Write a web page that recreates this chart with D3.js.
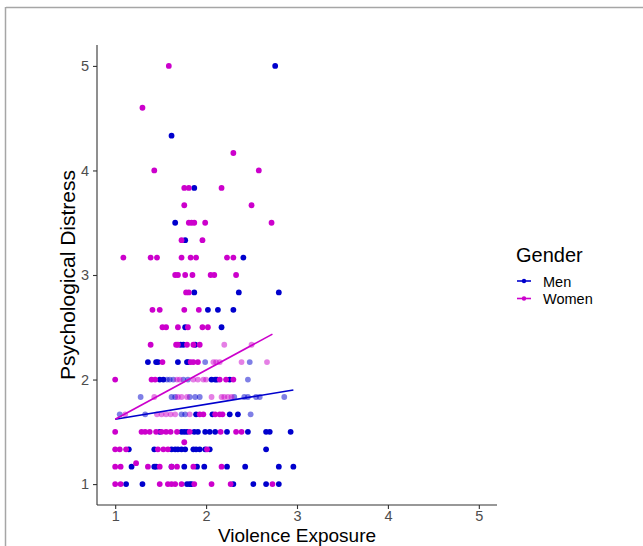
<!DOCTYPE html>
<html><head><meta charset="utf-8">
<script src="https://cdn.jsdelivr.net/npm/d3@7"></script>
<style>
html,body{margin:0;padding:0;background:#fff;}
svg{display:block;font-family:"Liberation Sans",Arial,sans-serif;}
</style></head>
<body>
<svg id="chart" width="643" height="546"></svg>
<script>
// ---- data ----
const xTicks = [1, 2, 3, 4, 5];
const yTicks = [1, 2, 3, 4, 5];
const groups = ["Men", "Women"];
const groupColors = ["#0000CD", "#CC00CC"];

// rows: [Psychological Distress, [Violence Exposure values...]]
const menRows = [
  [1, [1.12, 1.30, 1.79, 1.82, 1.84, 2.30, 2.52, 2.66, 2.80]],
  [1.167, [1.18, 1.43, 1.45, 1.62, 1.76, 1.90, 1.98, 2.23, 2.43, 2.80, 2.96]],
  [1.333, [1.15, 1.43, 1.62, 1.66, 1.69, 1.73, 1.77, 1.86, 1.89, 1.93, 1.99, 2.04, 2.66]],
  [1.5, [1.49, 1.73, 1.76, 1.79, 1.87, 1.91, 1.99, 2.04, 2.10, 2.23, 2.46, 2.66, 2.70, 2.93]],
  [1.667, [1.89, 2.07, 2.26, 2.35]],
  [2, [1.49, 1.53, 2.06, 2.10, 2.12, 2.26]],
  [2.167, [1.36, 1.45, 1.47, 1.69, 1.79, 1.80]],
  [2.333, [1.72, 1.75, 1.88]],
  [2.5, [1.77, 2.17]],
  [2.667, [2.02, 2.13, 2.30]],
  [2.833, [1.87, 2.36, 2.80]],
  [3.167, [2.41]],
  [3.333, [1.77]],
  [3.5, [1.66]],
  [3.833, [1.87]],
  [4.333, [1.62]],
  [5, [2.76]]
];
const womenRows = [
  [1, [1.0, 1.06, 1.49, 1.58, 1.62, 1.66, 1.73, 1.87, 2.06, 2.27, 2.73]],
  [1.167, [1.0, 1.06, 1.36, 1.49, 1.62, 1.68, 1.86, 2.17]],
  [1.2, [1.23]],
  [1.333, [1.0, 1.05, 1.12, 1.47, 1.53, 1.58, 2.01]],
  [1.4, [1.76]],
  [1.5, [1.0, 1.29, 1.33, 1.38, 1.45, 1.51, 1.56, 1.61, 1.68, 1.82, 2.16, 2.33, 2.39]],
  [1.667, [1.93, 1.97, 2.10, 2.15, 2.18]],
  [2, [1.0, 1.40, 1.44, 2.15, 2.22, 2.30]],
  [2.167, [1.52, 1.83, 1.86, 1.91]],
  [2.333, [1.39, 1.67, 1.69, 1.79, 1.86, 1.93]],
  [2.5, [1.52, 1.56, 1.69, 1.80, 1.96, 2.02]],
  [2.667, [1.41, 1.49, 1.76, 1.92]],
  [2.833, [1.78, 1.81]],
  [3, [1.66, 1.69, 1.77, 1.85, 2.05, 2.09, 2.33]],
  [3.167, [1.09, 1.39, 1.46, 1.73, 1.83, 1.89, 2.23, 2.30]],
  [3.333, [1.73, 1.96]],
  [3.5, [1.81, 1.84, 1.87, 1.99, 2.72]],
  [3.667, [1.76, 2.50]],
  [3.833, [1.76, 1.81, 2.17]],
  [4, [1.43, 2.58]],
  [4.167, [2.30]],
  [4.6, [1.30]],
  [5, [1.59]]
];
// lighter (semi-transparent) points
const menFaintRows = [
  [1.667, [1.05, 1.33, 1.73, 1.77, 2.49]],
  [1.833, [1.28, 1.62, 1.66, 1.82, 1.88, 1.93, 2.31, 2.42, 2.46, 2.55, 2.59, 2.86]],
  [2, [1.57, 1.60, 1.64, 1.75, 1.80, 2.46]],
  [2.167, [1.99, 2.48]]
];
const womenFaintRows = [
  [1.667, [1.11, 1.46, 1.51, 1.56, 1.61, 1.66, 1.82]],
  [1.833, [1.43, 1.69, 1.73, 1.79, 2.06, 2.17, 2.20, 2.24, 2.28]],
  [2, [1.68, 1.71, 1.86, 1.91, 1.97, 2.0]],
  [2.167, [2.08, 2.11, 2.15, 2.39, 2.67]],
  [2.333, [2.20, 2.50]]
];
// linear fits (estimated): intercept, slope, x range
const fitIntercepts = [1.477, 1.149];
const fitSlopes = [0.143, 0.471];
const fitXMin = [1.0, 1.0];
const fitXMax = [2.96, 2.73];

// ---- build ----
function flatten(rows, g, faint) {
  const out = [];
  rows.forEach(([y, xs]) => xs.forEach(x => out.push({x, y, g, faint})));
  return out;
}
const points = [].concat(
  flatten(menFaintRows, 0, true), flatten(womenFaintRows, 1, true),
  flatten(menRows, 0, false), flatten(womenRows, 1, false)
);

const svg = d3.select("#chart");
const W = 643, H = 546;
const plot = {left: 97, right: 497, top: 45, bottom: 505};

// outer frame (top/left border of the picture)
svg.append("line").attr("x1", 6).attr("x2", W).attr("y1", 7.5).attr("y2", 7.5)
  .attr("stroke", "#a6a6a6").attr("stroke-width", 1.5);
svg.append("line").attr("x1", 5.5).attr("x2", 5.5).attr("y1", 7).attr("y2", H)
  .attr("stroke", "#a6a6a6").attr("stroke-width", 1.5);

const x = d3.scaleLinear().domain([0.8, 5.2]).range([plot.left, plot.right]);
const y = d3.scaleLinear().domain([0.8, 5.2]).range([plot.bottom, plot.top]);

// axes
const fmt = d3.format("d");
const xAxis = svg.append("g").attr("transform", `translate(0,${plot.bottom})`)
  .call(d3.axisBottom(x).tickValues(xTicks).tickFormat(fmt).tickSize(4).tickPadding(2).tickSizeOuter(0));
const yAxis = svg.append("g").attr("transform", `translate(${plot.left},0)`)
  .call(d3.axisLeft(y).tickValues(yTicks).tickFormat(fmt).tickSize(4).tickPadding(4).tickSizeOuter(0));
[xAxis, yAxis].forEach(a => {
  a.attr("font-size", null).attr("font-family", null);
  a.select(".domain").attr("stroke", "#333").attr("stroke-width", 1.1);
  a.selectAll(".tick line").attr("stroke", "#333").attr("stroke-width", 1.1);
  a.selectAll(".tick text").attr("fill", "#4D4D4D")
    .style("font-size", "14.5px").style("font-family", "'Liberation Sans',Arial,sans-serif");
});
xAxis.select(".domain").attr("d", `M${plot.left},0H${plot.right}`);
yAxis.select(".domain").attr("d", `M0,${plot.top}V${plot.bottom}`);

// points
svg.append("g").selectAll("circle").data(points).join("circle")
  .attr("cx", d => x(d.x)).attr("cy", d => y(d.y)).attr("r", 2.9)
  .attr("fill", d => groupColors[d.g])
  .attr("fill-opacity", d => d.faint ? 0.5 : 1);

// fit lines
groups.forEach((g, i) => {
  const xs = [fitXMin[i], fitXMax[i]];
  svg.append("path")
    .datum(xs.map(v => [v, fitIntercepts[i] + fitSlopes[i] * v]))
    .attr("d", d3.line().x(d => x(d[0])).y(d => y(d[1])))
    .attr("stroke", groupColors[i]).attr("stroke-width", 1.6).attr("fill", "none");
});

// axis titles
svg.append("text").attr("x", (plot.left + plot.right) / 2).attr("y", 541.8)
  .attr("text-anchor", "middle").style("font-size", "19px").attr("fill", "#000")
  .text("Violence Exposure");
svg.append("text")
  .attr("transform", `translate(75,${(plot.top + plot.bottom) / 2}) rotate(-90)`)
  .attr("text-anchor", "middle").style("font-size", "21px").attr("fill", "#000")
  .text("Psychological Distress");

// legend
const lg = svg.append("g");
lg.append("text").attr("x", 516).attr("y", 262).style("font-size", "20px").attr("fill", "#000").text("Gender");
groups.forEach((g, i) => {
  const yy = 281 + i * 17.5;
  lg.append("line").attr("x1", 517).attr("x2", 531).attr("y1", yy).attr("y2", yy)
    .attr("stroke", groupColors[i]).attr("stroke-width", 1.6);
  lg.append("circle").attr("cx", 524).attr("cy", yy).attr("r", 2.2).attr("fill", groupColors[i]);
  lg.append("text").attr("x", 543).attr("y", yy + 5.5).style("font-size", "14.5px").attr("fill", "#000").text(g);
});
</script>
</body></html>
